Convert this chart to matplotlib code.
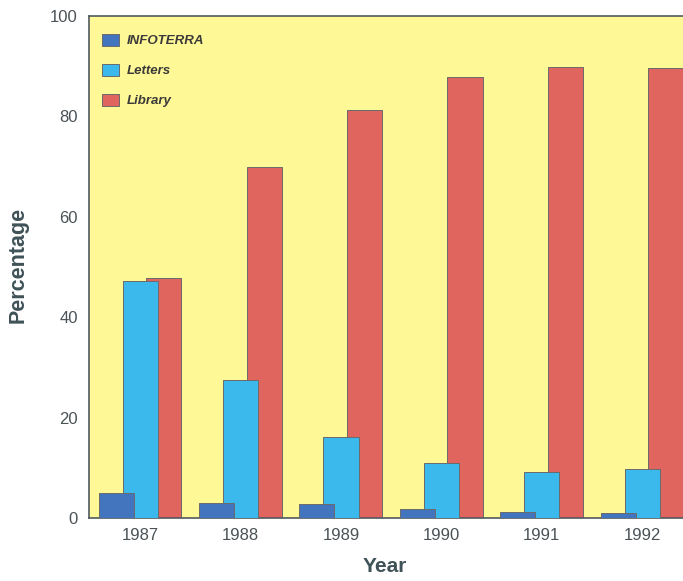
import matplotlib
matplotlib.use("Agg")
import matplotlib.pyplot as plt
import numpy as np

plt.rcParams["font.family"] = ["Liberation Sans", "DejaVu Sans"]

years = ["1987", "1988", "1989", "1990", "1991", "1992"]
infoterra = [5.0, 3.0, 2.8, 1.8, 1.2, 1.0]
letters = [47.2, 27.5, 16.1, 11.0, 9.2, 9.8]
library = [47.8, 70.0, 81.3, 87.8, 89.8, 89.6]

series_names = ["INFOTERRA", "Letters", "Library"]
colors = ["#4275bd", "#3bb8ec", "#e0655f"]

W, H = 683, 581
fig = plt.figure(figsize=(W / 100, H / 100), dpi=100)
fig.patch.set_facecolor("white")

ax_left, ax_bottom, ax_top = 89, 518, 16
ax_width = 640
px_per_unit = 100.4
ax = fig.add_axes([ax_left / W, (H - ax_bottom) / H, ax_width / W, (ax_bottom - ax_top) / H])
ax.set_facecolor("#fff897")

x = np.arange(len(years))
width = 0.35
offsets = [-0.24, 0.0, 0.235]
zorders = [4, 3, 2]
edge = "#6a6a6a"

# library at the back, INFOTERRA in front
handles = []
for k, vals in enumerate([infoterra, letters, library]):
    handles.append(ax.bar(x + offsets[k], vals, width, color=colors[k],
                          edgecolor=edge, linewidth=0.7, zorder=zorders[k],
                          label=series_names[k]))

ax.set_xlim(-0.51, -0.51 + ax_width / px_per_unit)
ax.set_ylim(0, 100)
ax.set_yticks([0, 20, 40, 60, 80, 100])
ax.set_xticks(x)
ax.set_xticklabels(years)

tick_color = "#4a5256"
ax.tick_params(axis="both", length=0, labelsize=12, colors=tick_color)
ax.tick_params(axis="y", pad=8)
ax.tick_params(axis="x", pad=7)

for side in ("left", "bottom", "top"):
    ax.spines[side].set_color("#505a5e")
    ax.spines[side].set_linewidth(1.2)
ax.spines["right"].set_visible(False)

label_color = "#3f5258"
fig.text(18 / W, 1 - 265 / H, "Percentage", rotation=90, ha="center", va="center",
         fontsize=15.5, fontweight="bold", color=label_color)
fig.text(385 / W, 1 - 567 / H, "Year", ha="center", va="center",
         fontsize=15, fontweight="bold", color=label_color)

leg = ax.legend(handles=handles, labels=series_names, loc="upper left",
                bbox_to_anchor=(102 / W, 1 - 34 / H), bbox_transform=fig.transFigure,
                frameon=False, borderpad=0, borderaxespad=0,
                handlelength=1.3, handleheight=1.0, handletextpad=0.6,
                labelspacing=1.25,
                prop={"size": 9.5, "style": "italic", "weight": "bold"})
for t in leg.get_texts():
    t.set_color("#3a3a3a")

fig.savefig("out.png", dpi=100, facecolor=fig.get_facecolor())
